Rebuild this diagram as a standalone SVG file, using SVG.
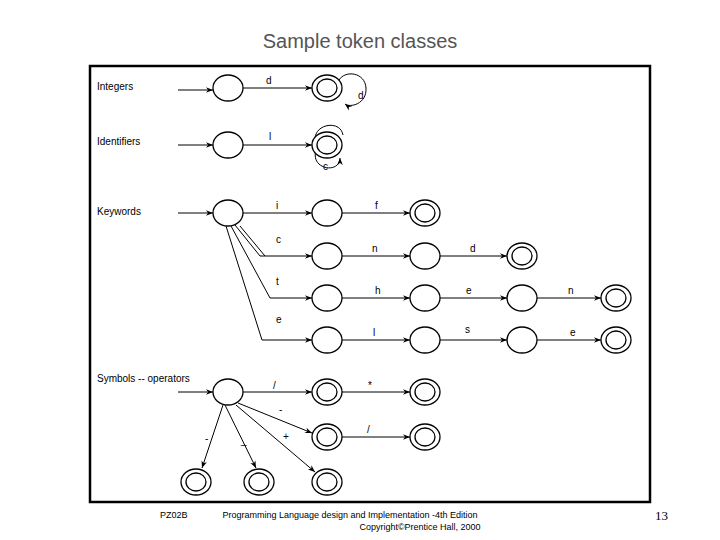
<svg xmlns="http://www.w3.org/2000/svg" width="720" height="540" viewBox="0 0 720 540">
<style>
.n{fill:#fff;stroke:#000;stroke-width:1.3}
.c{fill:none;stroke:#000;stroke-width:1}
.t{font-family:"Liberation Sans",Arial,sans-serif;font-size:10px;fill:#000}
.l{font-family:"Liberation Sans",Arial,sans-serif;font-size:10px;fill:#000}
</style>
<defs>
<marker id="a" viewBox="0 0 10 10" refX="10" refY="5" markerWidth="9" markerHeight="7" orient="auto" markerUnits="userSpaceOnUse"><path d="M0,1 L10,5 L0,9 L3,5 Z" fill="#000"/></marker>
<g id="s"><ellipse rx="15" ry="13" class="n"/></g>
<g id="d"><ellipse rx="15" ry="13" class="n"/><ellipse rx="10" ry="9" class="n"/></g>
</defs>
<rect width="720" height="540" fill="#fff"/>
<text x="360" y="48" text-anchor="middle" font-family="Liberation Sans,Arial,sans-serif" font-size="20" fill="#555">Sample token classes</text>
<rect x="90" y="66" width="560" height="436" fill="#fff" stroke="#000" stroke-width="2.5"/>
<g id="labels">
<text class="l" x="97" y="90">Integers</text>
<text class="l" x="97" y="145">Identifiers</text>
<text class="l" x="97" y="215">Keywords</text>
<text class="l" x="97" y="382">Symbols -- operators</text>
</g>
<g id="connectors" class="c">
<path d="M178,90 H213" marker-end="url(#a)"/>
<path d="M243,88 H312" marker-end="url(#a)"/>
<path d="M178,145 H213" marker-end="url(#a)"/>
<path d="M243,145 H312" marker-end="url(#a)"/>
<path d="M178,213 H213" marker-end="url(#a)"/>
<path d="M243,213 H312" marker-end="url(#a)"/>
<path d="M342,213 H410" marker-end="url(#a)"/>
<path d="M342,256 H410" marker-end="url(#a)"/>
<path d="M440,256 H507" marker-end="url(#a)"/>
<path d="M342,298 H410" marker-end="url(#a)"/>
<path d="M440,298 H507" marker-end="url(#a)"/>
<path d="M537,298 H601" marker-end="url(#a)"/>
<path d="M342,340 H410" marker-end="url(#a)"/>
<path d="M440,340 H507" marker-end="url(#a)"/>
<path d="M537,340 H601" marker-end="url(#a)"/>
<path d="M235,225 L260,256 H312" marker-end="url(#a)"/>
<path d="M231,226 L270,298 H312" marker-end="url(#a)"/>
<path d="M226,226 L262,340 H312" marker-end="url(#a)"/>
<path d="M240,226 L265,256"/>
<path d="M339,80 C345,70 365,72 366,88 C367,104 350,108 345,104" marker-end="url(#a)"/>
<path d="M316,143 C310,125 340,118 343,135"/>
<path d="M316,150 C310,170 340,174 340,158" marker-end="url(#a)"/>
<path d="M178,392 H213" marker-end="url(#a)"/>
<path d="M243,392 H312" marker-end="url(#a)"/>
<path d="M342,392 H410" marker-end="url(#a)"/>
<path d="M342,437 H410" marker-end="url(#a)"/>
<path d="M238,403 L312,433" marker-end="url(#a)"/>
<path d="M236,405 L315,472" marker-end="url(#a)"/>
<path d="M225,405 L256,468" marker-end="url(#a)"/>
<path d="M223,405 L202,468" marker-end="url(#a)"/>
</g>
<g id="edge-labels">
<text class="t" x="266" y="84">d</text>
<text class="t" x="358" y="99">d</text>
<text class="t" x="269" y="140">l</text>
<text class="t" x="323" y="170">c</text>
<text class="t" x="276" y="209">i</text>
<text class="t" x="375" y="209">f</text>
<text class="t" x="276" y="243">c</text>
<text class="t" x="372" y="252">n</text>
<text class="t" x="470" y="252">d</text>
<text class="t" x="276" y="285">t</text>
<text class="t" x="375" y="294">h</text>
<text class="t" x="466" y="294">e</text>
<text class="t" x="568" y="294">n</text>
<text class="t" x="276" y="323">e</text>
<text class="t" x="373" y="336">l</text>
<text class="t" x="465" y="333">s</text>
<text class="t" x="570" y="336">e</text>
<text class="t" x="273" y="389">/</text>
<text class="t" x="368" y="389">*</text>
<text class="t" x="279" y="413">-</text>
<text class="t" x="367" y="433">/</text>
<text class="t" x="283" y="440">+</text>
<text class="t" x="205" y="442">-</text>
<text class="t" x="241" y="444">_</text>
</g>
<g id="n-int-0"><use href="#s" x="228" y="88"/></g>
<g id="n-int-1"><use href="#d" x="327" y="88"/></g>
<g id="n-id-0"><use href="#s" x="228" y="145"/></g>
<g id="n-id-1"><use href="#d" x="327" y="145"/></g>
<g id="n-kw-0"><use href="#s" x="228" y="213"/></g>
<g id="n-kw-1"><use href="#s" x="327" y="213"/></g>
<g id="n-kw-2"><use href="#d" x="425" y="213"/></g>
<g id="n-c1"><use href="#s" x="327" y="256"/></g>
<g id="n-c2"><use href="#s" x="425" y="256"/></g>
<g id="n-c3"><use href="#d" x="522" y="256"/></g>
<g id="n-t1"><use href="#s" x="327" y="298"/></g>
<g id="n-t2"><use href="#s" x="425" y="298"/></g>
<g id="n-t3"><use href="#s" x="522" y="298"/></g>
<g id="n-t4"><use href="#d" x="616" y="298"/></g>
<g id="n-e1"><use href="#s" x="327" y="340"/></g>
<g id="n-e2"><use href="#s" x="425" y="340"/></g>
<g id="n-e3"><use href="#s" x="522" y="340"/></g>
<g id="n-e4"><use href="#d" x="616" y="340"/></g>
<g id="n-sy-0"><use href="#s" x="228" y="392"/></g>
<g id="n-sy-1"><use href="#d" x="327" y="392"/></g>
<g id="n-sy-2"><use href="#d" x="425" y="392"/></g>
<g id="n-sy-3"><use href="#d" x="327" y="437"/></g>
<g id="n-sy-4"><use href="#d" x="425" y="437"/></g>
<g id="n-sy-5"><use href="#d" x="196" y="482"/></g>
<g id="n-sy-6"><use href="#d" x="259" y="482"/></g>
<g id="n-sy-7"><use href="#d" x="327" y="482"/></g>
<g id="footer" font-family="Liberation Sans,Arial,sans-serif" font-size="9" fill="#000">
<text x="160" y="518">PZ02B</text>
<text x="350" y="518" text-anchor="middle">Programming Language design and Implementation -4th Edition</text>
<text x="420" y="530" text-anchor="middle">Copyright©Prentice Hall, 2000</text>
<text x="655" y="520" font-family="Liberation Serif,serif" font-size="13">13</text>
</g>
</svg>
